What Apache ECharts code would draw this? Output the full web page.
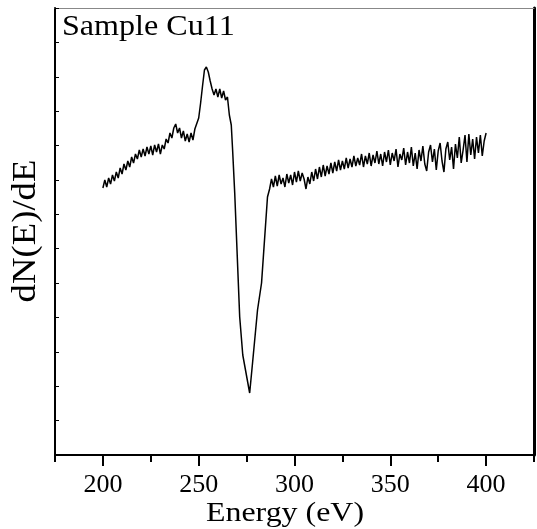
<!DOCTYPE html>
<html>
<head>
<meta charset="utf-8">
<script src="https://cdn.jsdelivr.net/npm/echarts@6/dist/echarts.min.js"></script>
<style>html,body{margin:0;padding:0;background:#fff}#c{width:537px;height:529px}</style>
</head>
<body>
<div id="c"></div>
<script>
// Energy (eV) and dN(E)/dE signal in arbitrary units (height above the axis)
var energy = [
200,201,202,203,204,205,206,207,208,209,210,211,212,213,214,215,216,217,218,219,
220,221,222,223,224,225,226,227,228,229,230,231,232,233,234,235,236,237,238,239,
240,241,242,243,244,245,246,247,248,249,250,251,252,253,254,255,256,257,258,259,
260,261,262,263,264,265,266,267,267.7,268.8,271.4,273,276.6,278.1,280.7,282.8,285.9,
287,288,289,290,291,292,293,294,295,296,297,298,299,300,301,302,303,304,305,306,307,308,309,
310,311,312,313,314,315,316,317,318,319,320,321,322,323,324,325,326,327,328,329,
330,331,332,333,334,335,336,337,338,339,340,341,342,343,344,345,346,347,348,349,
350,351,352,353,354,355,356,357,358,359,360,361,362,363,364,365,366,367,368,369,
370,371,372,373,374,375,376,377,378,379,380,381,382,383,384,385,386,387,388,389,
390,391,392,393,394,395,396,397,398,399,400
];
var signal = [
267,275,268,277,271,280,274,283,277,287,281,291,285,294,288,298,292,301,296,305,
298,306,299,308,301,309,300,310,303,311,301,310,306,316,312,322,317,327,331,322,
327,317,324,314,321,313,322,315,326,328,337,352,369,385,388,383,374,366,360,366,
358,366,357,364,355,358,340,330,305,262,138,100,62,92,145,172,258,
266,276,268,279,269,280,271,277,268,281,272,280,270,283,273,284,274,282,276,266,278,271,283,
274,286,276,288,278,290,279,289,281,292,282,293,284,295,285,294,286,297,287,296,
288,299,289,297,290,301,288,299,291,302,289,300,292,304,291,301,289,303,293,305,
290,302,294,306,288,301,295,307,290,303,292,308,289,302,286,305,294,309,291,284,
303,310,293,306,285,304,312,294,283,306,313,295,308,286,311,297,318,292,305,320,
293,321,300,316,296,318,302,320,299,314,322
];
var xTickLabels = [200, 250, 300, 350, 400];
var xTitle = 'Energy (eV)';
var yTitle = 'dN(E)/dE';
var sampleLabel = 'Sample Cu11';

var pts = energy.map(function (e, i) { return [e, signal[i]]; });
var serif = '"Liberation Serif","Times New Roman",serif';
var chart = echarts.init(document.getElementById('c'), null, {renderer: 'canvas'});
chart.setOption({
  animation: false,
  backgroundColor: '#fff',
  grid: {left: 55, right: 2, top: 8, bottom: 74, containLabel: false},
  xAxis: [
    {
      type: 'value', position: 'bottom', min: 175, max: 425, interval: 25,
      axisLine: {show: true, onZero: false, lineStyle: {color: '#000', width: 2}},
      axisTick: {show: true, inside: false, length: 7, lineStyle: {color: '#000', width: 2}},
      axisLabel: {
        show: true, margin: 17, color: '#000', fontSize: 26, fontFamily: serif,
        formatter: function (v) { return xTickLabels.indexOf(v) >= 0 ? String(v) : ''; }
      },
      splitLine: {show: false}
    },
    {
      type: 'value', position: 'bottom', min: 175, max: 425,
      axisLine: {show: false, onZero: false},
      axisTick: {show: true, customValues: xTickLabels, length: 11, lineStyle: {color: '#000', width: 2}},
      axisLabel: {show: false},
      splitLine: {show: false}
    },
    {
      type: 'value', position: 'top', min: 175, max: 425,
      axisLine: {show: true, onZero: false, lineStyle: {color: '#888', width: 1}},
      axisTick: {show: false}, axisLabel: {show: false}, splitLine: {show: false}
    }
  ],
  yAxis: [
    {
      type: 'value', position: 'left', min: 0, max: 447, interval: 447 / 13,
      axisLine: {show: true, onZero: false, lineStyle: {color: '#000', width: 2}},
      axisTick: {show: true, inside: true, length: 4, lineStyle: {color: '#000', width: 1}},
      axisLabel: {show: false}, splitLine: {show: false}
    },
    {
      type: 'value', position: 'right', min: 0, max: 447,
      axisLine: {show: true, onZero: false, lineStyle: {color: '#000', width: 3}},
      axisTick: {show: false}, axisLabel: {show: false}, splitLine: {show: false}
    }
  ],
  series: [{
    type: 'line', xAxisIndex: 0, yAxisIndex: 0, data: pts,
    showSymbol: false, symbol: 'none',
    lineStyle: {color: '#000', width: 1.5}
  }],
  graphic: [
    {type: 'text', x: 62, y: 27, scaleX: 1.07,
     style: {text: sampleLabel, font: '30px ' + serif, fill: '#000', textAlign: 'left', textVerticalAlign: 'middle'}},
    {type: 'text', x: 285, y: 514, scaleX: 1.14,
     style: {text: xTitle, font: '28px ' + serif, fill: '#000', textAlign: 'center', textVerticalAlign: 'middle'}},
    {type: 'text', x: 26, y: 231, rotation: Math.PI / 2, scaleX: 1.08,
     style: {text: yTitle, font: '34px ' + serif, fill: '#000', textAlign: 'center', textVerticalAlign: 'middle'}}
  ]
});
</script>
</body>
</html>
